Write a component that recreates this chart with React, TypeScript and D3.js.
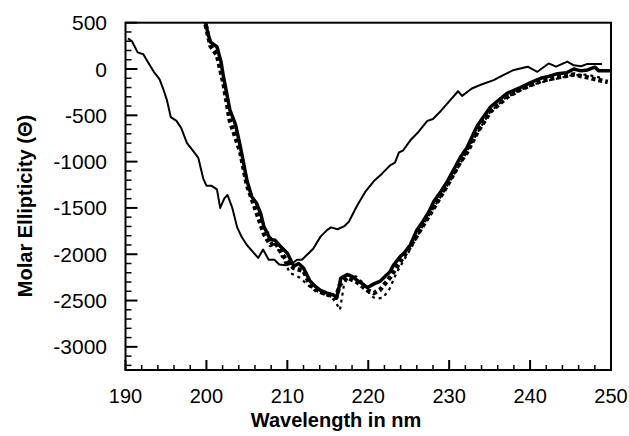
import React from "react";
import * as d3 from "d3";

// wavelength (nm) / molar ellipticity readings for each trace
const thinWl = [190.3, 190.8, 191.5, 192.2, 192.8, 193.5, 194.2, 194.6, 195.1, 195.6, 196.3, 196.9, 197.6, 198.4, 199.0, 199.6, 200.0, 200.6, 201.3, 201.7, 202.2, 202.6, 203.2, 203.8, 204.4, 205.0, 205.8, 206.4, 207.0, 207.7, 208.4, 209.0, 209.8, 210.6, 211.2, 211.8, 212.5, 213.2, 214.1, 214.9, 215.4, 216.2, 217.0, 217.6, 218.6, 219.6, 220.7, 221.7, 222.7, 223.3, 223.8, 224.3, 225.2, 226.2, 227.3, 228.0, 229.0, 230.0, 231.1, 231.6, 232.8, 233.9, 235.5, 236.8, 238.0, 239.7, 240.9, 242.3, 243.2, 244.6, 245.4, 246.3, 247.1, 248.9];
const thinVal = [330, 300, 180, 160, 70, -30, -110, -200, -330, -520, -560, -640, -800, -890, -960, -1180, -1260, -1260, -1300, -1500, -1400, -1360, -1500, -1710, -1820, -1900, -1980, -2040, -1950, -2060, -2060, -2110, -2120, -2100, -2060, -2060, -2000, -1940, -1810, -1740, -1710, -1730, -1700, -1650, -1480, -1330, -1210, -1130, -1040, -1010, -900, -880, -770, -680, -560, -540, -450, -350, -240, -290, -210, -170, -120, -60, -10, 25, -30, 60, 25, 80, 40, 30, 55, 55];

const solidWl = [199.9, 200.2, 200.5, 201.3, 201.8, 202.1, 202.9, 203.6, 204.2, 205.0, 205.6, 206.2, 206.7, 207.1, 207.9, 208.5, 209.2, 210.0, 210.8, 211.4, 212.0, 212.8, 213.5, 214.1, 214.9, 215.7, 216.1, 216.4, 216.6, 217.4, 218.0, 218.6, 219.3, 219.9, 220.7, 221.5, 222.2, 222.7, 223.1, 224.0, 224.4, 225.2, 226.0, 226.8, 227.5, 228.1, 229.0, 229.8, 230.6, 231.4, 232.2, 233.0, 233.5, 234.3, 235.1, 236.2, 237.2, 238.0, 238.8, 240.0, 241.3, 242.3, 243.4, 244.5, 245.4, 246.3, 247.1, 248.0, 248.5, 250.0];
const solidVal = [500, 380, 290, 240, 80, -80, -440, -600, -840, -1200, -1380, -1450, -1560, -1700, -1840, -1850, -1920, -1990, -2130, -2100, -2150, -2290, -2350, -2390, -2420, -2440, -2470, -2350, -2260, -2220, -2240, -2280, -2320, -2360, -2320, -2290, -2230, -2190, -2120, -2020, -1990, -1900, -1740, -1640, -1540, -1430, -1320, -1210, -1080, -950, -850, -700, -610, -510, -410, -330, -260, -230, -200, -150, -100, -80, -50, -40, 0, -20, -10, 20, -20, -20];

const dotWl = [199.9, 200.5, 201.3, 202.1, 202.9, 204.2, 205.0, 206.2, 207.1, 207.9, 208.5, 209.3, 210.0, 210.8, 212.0, 212.8, 214.1, 215.3, 216.0, 216.5, 217.4, 218.6, 219.9, 220.7, 221.5, 222.7, 223.8, 224.8, 226.0, 228.1, 229.8, 231.4, 232.2, 233.5, 235.1, 237.2, 238.8, 241.3, 243.4, 245.4, 247.1, 248.0, 249.6];
const dotVal = [480, 250, 150, -150, -560, -900, -1250, -1550, -1780, -1900, -1870, -1990, -2080, -2150, -2180, -2330, -2410, -2440, -2470, -2330, -2250, -2300, -2390, -2420, -2380, -2250, -2100, -1970, -1800, -1500, -1250, -1000, -900, -680, -460, -300, -220, -130, -90, -60, -90, -110, -140];

const dashWl = [207.5, 208.5, 209.5, 210.3, 211.5, 212.5, 213.5, 214.5, 215.5, 216.0, 216.5, 217.0, 217.6, 218.5, 219.5, 220.3, 221.0, 221.8, 222.6, 223.5, 224.5, 225.5, 227.0, 229.0, 231.0, 233.0, 235.0, 237.0, 239.0, 241.0, 243.0, 245.0, 247.0, 249.0];
const dashVal = [-1750, -1900, -2050, -2200, -2250, -2330, -2400, -2430, -2470, -2520, -2600, -2330, -2220, -2240, -2320, -2450, -2480, -2470, -2380, -2200, -2050, -1900, -1650, -1370, -1080, -760, -470, -310, -220, -150, -110, -70, -60, -100];

const xTicks = [190, 200, 210, 220, 230, 240, 250];
const yTicks = [500, 0, -500, -1000, -1500, -2000, -2500, -3000];

const W = 629;
const H = 436;
const m = { left: 125.5, right: 611, top: 22.7, bottom: 370 };

export default function App() {
  const x = d3.scaleLinear().domain([190, 250]).range([m.left, m.right]);
  const y = d3.scaleLinear().domain([-3250, 500]).range([m.bottom, m.top]);

  const line = d3
    .line<[number, number]>()
    .x((d) => x(d[0]))
    .y((d) => y(d[1]));
  const pts = (wl: number[], v: number[]) => wl.map((w, i) => [w, v[i]] as [number, number]);

  const minorX = d3.range(192, 250, 2).filter((v) => v % 10 !== 0);
  const minorY = d3.range(-3200, 500, 100).filter((v) => v % 500 !== 0);

  const font = "'Liberation Sans', Arial, Helvetica, sans-serif";

  return (
    <svg
      width={W}
      height={H}
      style={{ position: "absolute", left: 0, top: 0, background: "#fff" }}
      fontFamily={font}
    >
      <defs>
        <clipPath id="plot">
          <rect x={m.left} y={m.top} width={m.right - m.left} height={m.bottom - m.top} />
        </clipPath>
      </defs>

      {/* traces */}
      <g clipPath="url(#plot)" fill="none" stroke="#000" strokeLinejoin="round">
        <path d={line(pts(thinWl, thinVal)) || ""} strokeWidth={2} />
        <path d={line(pts(dashWl, dashVal)) || ""} strokeWidth={2.2} strokeDasharray="3,4" />
        <path d={line(pts(dotWl, dotVal)) || ""} strokeWidth={4.5} strokeDasharray="4,3" />
        <path d={line(pts(solidWl, solidVal)) || ""} strokeWidth={3.5} />
      </g>

      {/* frame */}
      <rect
        x={m.left}
        y={m.top}
        width={m.right - m.left}
        height={m.bottom - m.top}
        fill="none"
        stroke="#000"
        strokeWidth={2}
      />

      {/* x ticks */}
      {xTicks.map((t) => (
        <g key={"xt" + t}>
          <line x1={x(t)} x2={x(t)} y1={m.bottom} y2={m.bottom - 10} stroke="#000" strokeWidth={2} />
          <text x={x(t)} y={403} textAnchor="middle" fontSize={20}>
            {t}
          </text>
        </g>
      ))}
      {minorX.map((t) => (
        <line key={"xm" + t} x1={x(t)} x2={x(t)} y1={m.bottom} y2={m.bottom - 5} stroke="#000" strokeWidth={1.5} />
      ))}

      {/* y ticks */}
      {yTicks.map((t) => (
        <g key={"yt" + t}>
          <line x1={m.left} x2={m.left + 12} y1={y(t)} y2={y(t)} stroke="#000" strokeWidth={2} />
          <text x={107} y={y(t)} dy="0.36em" textAnchor="end" fontSize={21}>
            {t}
          </text>
        </g>
      ))}
      {minorY.map((t) => (
        <line key={"ym" + t} x1={m.left} x2={m.left + 6} y1={y(t)} y2={y(t)} stroke="#000" strokeWidth={1.5} />
      ))}

      {/* axis titles */}
      <text x={336} y={427} textAnchor="middle" fontSize={20} fontWeight="bold">
        Wavelength in nm
      </text>
      <text
        transform={`translate(32,206) rotate(-90)`}
        textAnchor="middle"
        fontSize={20}
        fontWeight="bold"
      >
        Molar Ellipticity (Θ)
      </text>
    </svg>
  );
}
